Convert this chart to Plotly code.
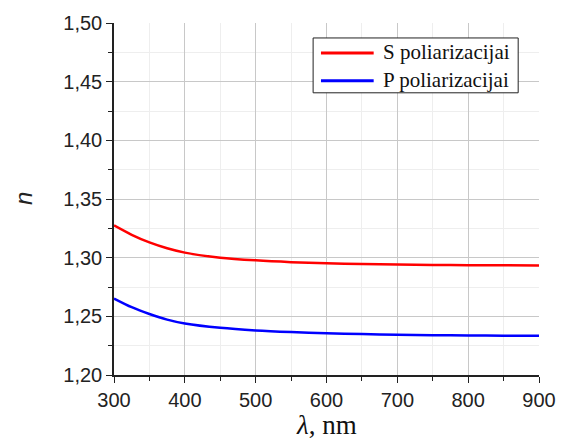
import plotly.graph_objects as go

wavelength = [300, 325, 350, 375, 400, 450, 500, 550, 600, 650, 700, 750, 800, 850, 900]
n_s = [1.3275, 1.3195, 1.3130, 1.3080, 1.3043, 1.3000, 1.2977, 1.2962, 1.2952, 1.2946, 1.2941, 1.2938, 1.2936, 1.2935, 1.2934]
n_p = [1.2652, 1.2578, 1.2520, 1.2472, 1.2439, 1.2402, 1.2380, 1.2366, 1.2356, 1.2349, 1.2343, 1.2339, 1.2337, 1.2335, 1.2334]

series_names = ["S poliarizacijai", "P poliarizacijai"]
series_colors = ["#ff0000", "#0000ff"]

x_ticks = [300, 400, 500, 600, 700, 800, 900]
y_ticks = [1.20, 1.25, 1.30, 1.35, 1.40, 1.45, 1.50]

fig = go.Figure()
for name, vals, col in zip(series_names, [n_s, n_p], series_colors):
    fig.add_trace(go.Scatter(x=wavelength, y=vals, mode="lines", name=name, showlegend=False,
                             line=dict(color=col, width=2.5, shape="spline", smoothing=0.8)))

tickfont = dict(family="Liberation Sans", size=20, color="#222")

axis_common = dict(
    showline=True, linecolor="#222", linewidth=1.5,
    ticks="outside", ticklen=6, tickwidth=1.2, tickcolor="#222",
    showgrid=True, gridcolor="#c8c8c8", gridwidth=1,
    zeroline=False, tickfont=tickfont,
)

# custom legend (paper coordinates)
legend_box = dict(x0=0.4685, x1=0.951, y0=0.8017, y1=0.9575)
legend_rows_y = [0.9145, 0.836]
shapes = [dict(type="rect", xref="paper", yref="paper", **legend_box,
               line=dict(color="#222", width=1), fillcolor="white", layer="above")]
annotations = []
for name, col, yy in zip(series_names, series_colors, legend_rows_y):
    shapes.append(dict(type="line", xref="paper", yref="paper", x0=0.487, x1=0.611, y0=yy, y1=yy,
                       line=dict(color=col, width=3), layer="above"))
    annotations.append(dict(text=name, x=0.628, y=yy + 0.002, xref="paper", yref="paper",
                            xanchor="left", yanchor="middle", showarrow=False,
                            font=dict(family="Liberation Serif", size=21, color="#111")))

annotations += [
    dict(text="<i>n</i>", x=0, y=0.5, xref="paper", yref="paper", xanchor="center",
         xshift=-91, showarrow=False,
         font=dict(family="Liberation Sans", size=24, color="#222"), textangle=-90),
    dict(text="<i>λ</i>, nm", x=0.5, y=-0.142, xref="paper", yref="paper",
         xanchor="center", yanchor="middle", showarrow=False,
         font=dict(family="Liberation Serif", size=27, color="#111")),
]

fig.update_layout(
    xaxis=dict(range=[300, 900], tickvals=x_ticks, **axis_common,
               minor=dict(dtick=50, tick0=300, ticks="outside", ticklen=4, tickcolor="#222",
                          showgrid=True, gridcolor="#eeeeee", gridwidth=1)),
    yaxis=dict(range=[1.20, 1.50], tickvals=y_ticks, tickformat=".2f", **axis_common,
               minor=dict(dtick=0.025, tick0=1.2, ticks="outside", ticklen=4, tickcolor="#222",
                          showgrid=True, gridcolor="#eeeeee", gridwidth=1)),
    xaxis2=dict(range=[300, 900], overlaying="x", side="top", anchor="y",
                tickvals=x_ticks, showticklabels=False, showgrid=False, zeroline=False,
                showline=True, linecolor="#222", linewidth=1.5,
                ticks="inside", ticklen=5, tickwidth=1.2, tickcolor="#222",
                minor=dict(dtick=50, tick0=300, ticks="inside", ticklen=4, tickcolor="#222", showgrid=False)),
    yaxis2=dict(range=[1.20, 1.50], overlaying="y", side="right", anchor="x",
                tickvals=y_ticks, showticklabels=False, showgrid=False, zeroline=False,
                showline=True, linecolor="#222", linewidth=1.5,
                ticks="inside", ticklen=5, tickwidth=1.2, tickcolor="#222",
                minor=dict(dtick=0.025, tick0=1.2, ticks="inside", ticklen=4, tickcolor="#222", showgrid=False)),
    width=568, height=446,
    margin=dict(l=114, r=25, t=22, b=71),
    paper_bgcolor="white", plot_bgcolor="white",
    separators=",.",
    showlegend=False,
    shapes=shapes,
    annotations=annotations,
)

fig.write_html("out.html")
